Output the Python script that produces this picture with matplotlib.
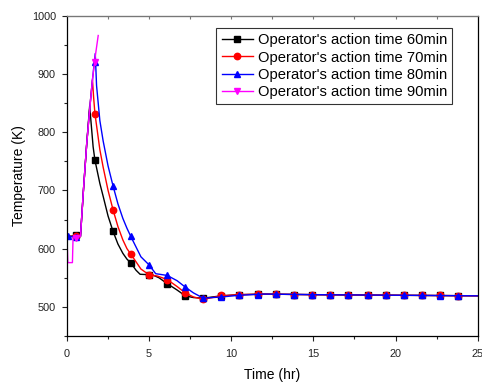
import matplotlib
matplotlib.use('Agg')
import matplotlib.pyplot as plt

plt.rcParams['font.family'] = ['Liberation Sans', 'DejaVu Sans']

# --- line data (time in hr, temperature in K) ---
t60 = [0.0, 0.5, 0.82, 1.0, 1.2, 1.38, 1.5, 1.59, 1.7, 2.0, 2.2, 2.5, 2.8, 3.1, 3.4,
       3.65, 3.9, 4.2, 4.45, 5.2, 5.6, 6.1, 6.7, 7.2, 7.7, 8.3, 9.4, 10.5, 12.0,
       15.0, 20.0, 25.0]
T60 = [621, 622, 621, 700, 780, 845, 805, 775, 752, 712, 690, 656, 630, 608, 592,
       582, 575, 563, 556, 555, 550, 540, 529, 519, 516, 515, 519, 521, 522,
       521, 520, 519]

t70 = [0.0, 0.5, 0.82, 1.0, 1.2, 1.38, 1.55, 1.62, 1.7, 2.0, 2.2, 2.5, 2.8, 3.1,
       3.4, 3.65, 3.9, 4.5, 5.0, 5.5, 6.1, 6.7, 7.2, 7.7, 8.3, 9.4, 10.5, 12.0,
       15.0, 20.0, 25.0]
T70 = [621, 621, 621, 700, 780, 840, 890, 860, 832, 770, 740, 700, 667, 638,
       615, 600, 590, 565, 555, 553, 547, 535, 524, 517, 513, 519, 521, 522,
       521, 520, 519]

t80 = [0.0, 0.5, 0.82, 1.0, 1.2, 1.38, 1.55, 1.72, 1.8, 2.0, 2.2, 2.5, 2.8, 3.1,
       3.4, 3.65, 3.9, 4.5, 5.0, 5.4, 6.1, 6.7, 7.2, 7.7, 8.3, 9.4, 10.5, 12.0,
       15.0, 20.0, 25.0]
T80 = [621, 620, 621, 700, 780, 840, 890, 935, 880, 820, 785, 742, 708, 677,
       652, 635, 620, 586, 572, 557, 554, 545, 534, 524, 515, 517, 520, 522,
       521, 520, 519]

t90 = [0.0, 0.05, 0.33, 0.37, 0.82, 1.0, 1.2, 1.38, 1.55, 1.72, 1.9]
T90 = [620, 576, 576, 620, 621, 700, 780, 838, 890, 930, 966]

# --- marker data ---
m_t = [0.56, 1.7, 2.8, 3.9, 5.0, 6.1, 7.2, 8.3, 9.4, 10.5, 11.6, 12.7, 13.8,
       14.9, 16.0, 17.1, 18.3, 19.4, 20.5, 21.6, 22.7, 23.8]
mT60 = [624, 752, 630, 575, 555, 540, 519, 516, 519, 521, 522, 522, 521,
        521, 521, 521, 520, 520, 520, 520, 520, 519]
mT70 = [621, 832, 667, 590, 555, 547, 524, 513, 520, 521, 522, 522, 521,
        521, 521, 521, 520, 520, 520, 520, 520, 519]
mT80 = [620, 920, 708, 621, 572, 554, 534, 515, 517, 520, 521, 522, 521,
        521, 521, 520, 520, 520, 520, 520, 519, 519]
m_t90 = [0.56, 1.72]
mT90 = [618, 920]
m_t80_extra = [0.07]
mT80_extra = [622]

labels = ["Operator's action time 60min", "Operator's action time 70min",
          "Operator's action time 80min", "Operator's action time 90min"]
colors = ['black', 'red', 'blue', 'magenta']
markers = ['s', 'o', '^', 'v']

fig = plt.figure(figsize=(4.82, 3.83), dpi=100)
ax = fig.add_axes([0.139, 0.1227, 0.852, 0.8363])

series = [(t60, T60, m_t, mT60), (t70, T70, m_t, mT70),
          (t80, T80, m_t, mT80), (t90, T90, m_t90, mT90)]
for (lt, lT, mt, mT), c, mk, lab in zip(series, colors, markers, labels):
    ax.plot(lt, lT, color=c, lw=1.0)
    ax.plot(mt, mT, ls='none', marker=mk, color=c, ms=4.6)
    if c == 'blue':
        ax.plot(m_t80_extra, mT80_extra, ls='none', marker=mk, color=c, ms=4.6)
    # legend proxy
    ax.plot([], [], color=c, lw=1.0, marker=mk, ms=4.6, label=lab)

ax.set_xlim(0, 25)
ax.set_ylim(450, 1000)
ax.set_xticks([0, 5, 10, 15, 20, 25])
ax.set_xticks([2.5, 7.5, 12.5, 17.5, 22.5], minor=True)
ax.set_yticks([500, 600, 700, 800, 900, 1000])
ax.set_yticks([450, 550, 650, 750, 850, 950], minor=True)
ax.tick_params(axis='both', which='both', direction='out', labelsize=7.8,
               width=0.8, pad=4.5, colors='#222222')
ax.tick_params(which='major', length=3.5)
ax.tick_params(which='minor', length=2.5)
ax.tick_params(axis='x', pad=6)

ax.set_xlabel('Time (hr)', fontsize=10, labelpad=6)
ax.set_ylabel('Temperature (K)', fontsize=10, labelpad=4)

ax.spines['top'].set_color('#777777')
for s in ['left', 'bottom', 'right']:
    ax.spines[s].set_color('black')
for s in ax.spines.values():
    s.set_linewidth(0.9)

# top axis ticks (inward, no labels)
top = ax.secondary_xaxis('top')
top.set_xticks([2.5, 5, 7.5, 10, 12.5, 15, 17.5, 20, 22.5])
top.tick_params(direction='in', length=2.5, labeltop=False, colors='#777777')
top.spines['top'].set_color('#777777')

leg = ax.legend(loc='upper right', bbox_to_anchor=(0.938, 0.961), borderaxespad=0,
                fontsize=10.6, frameon=True, fancybox=False, handlelength=2.1,
                labelspacing=0.22, handletextpad=0.35, borderpad=0.35)
leg.get_frame().set_edgecolor('black')
leg.get_frame().set_linewidth(0.8)

fig.savefig('out.png', dpi=100)
